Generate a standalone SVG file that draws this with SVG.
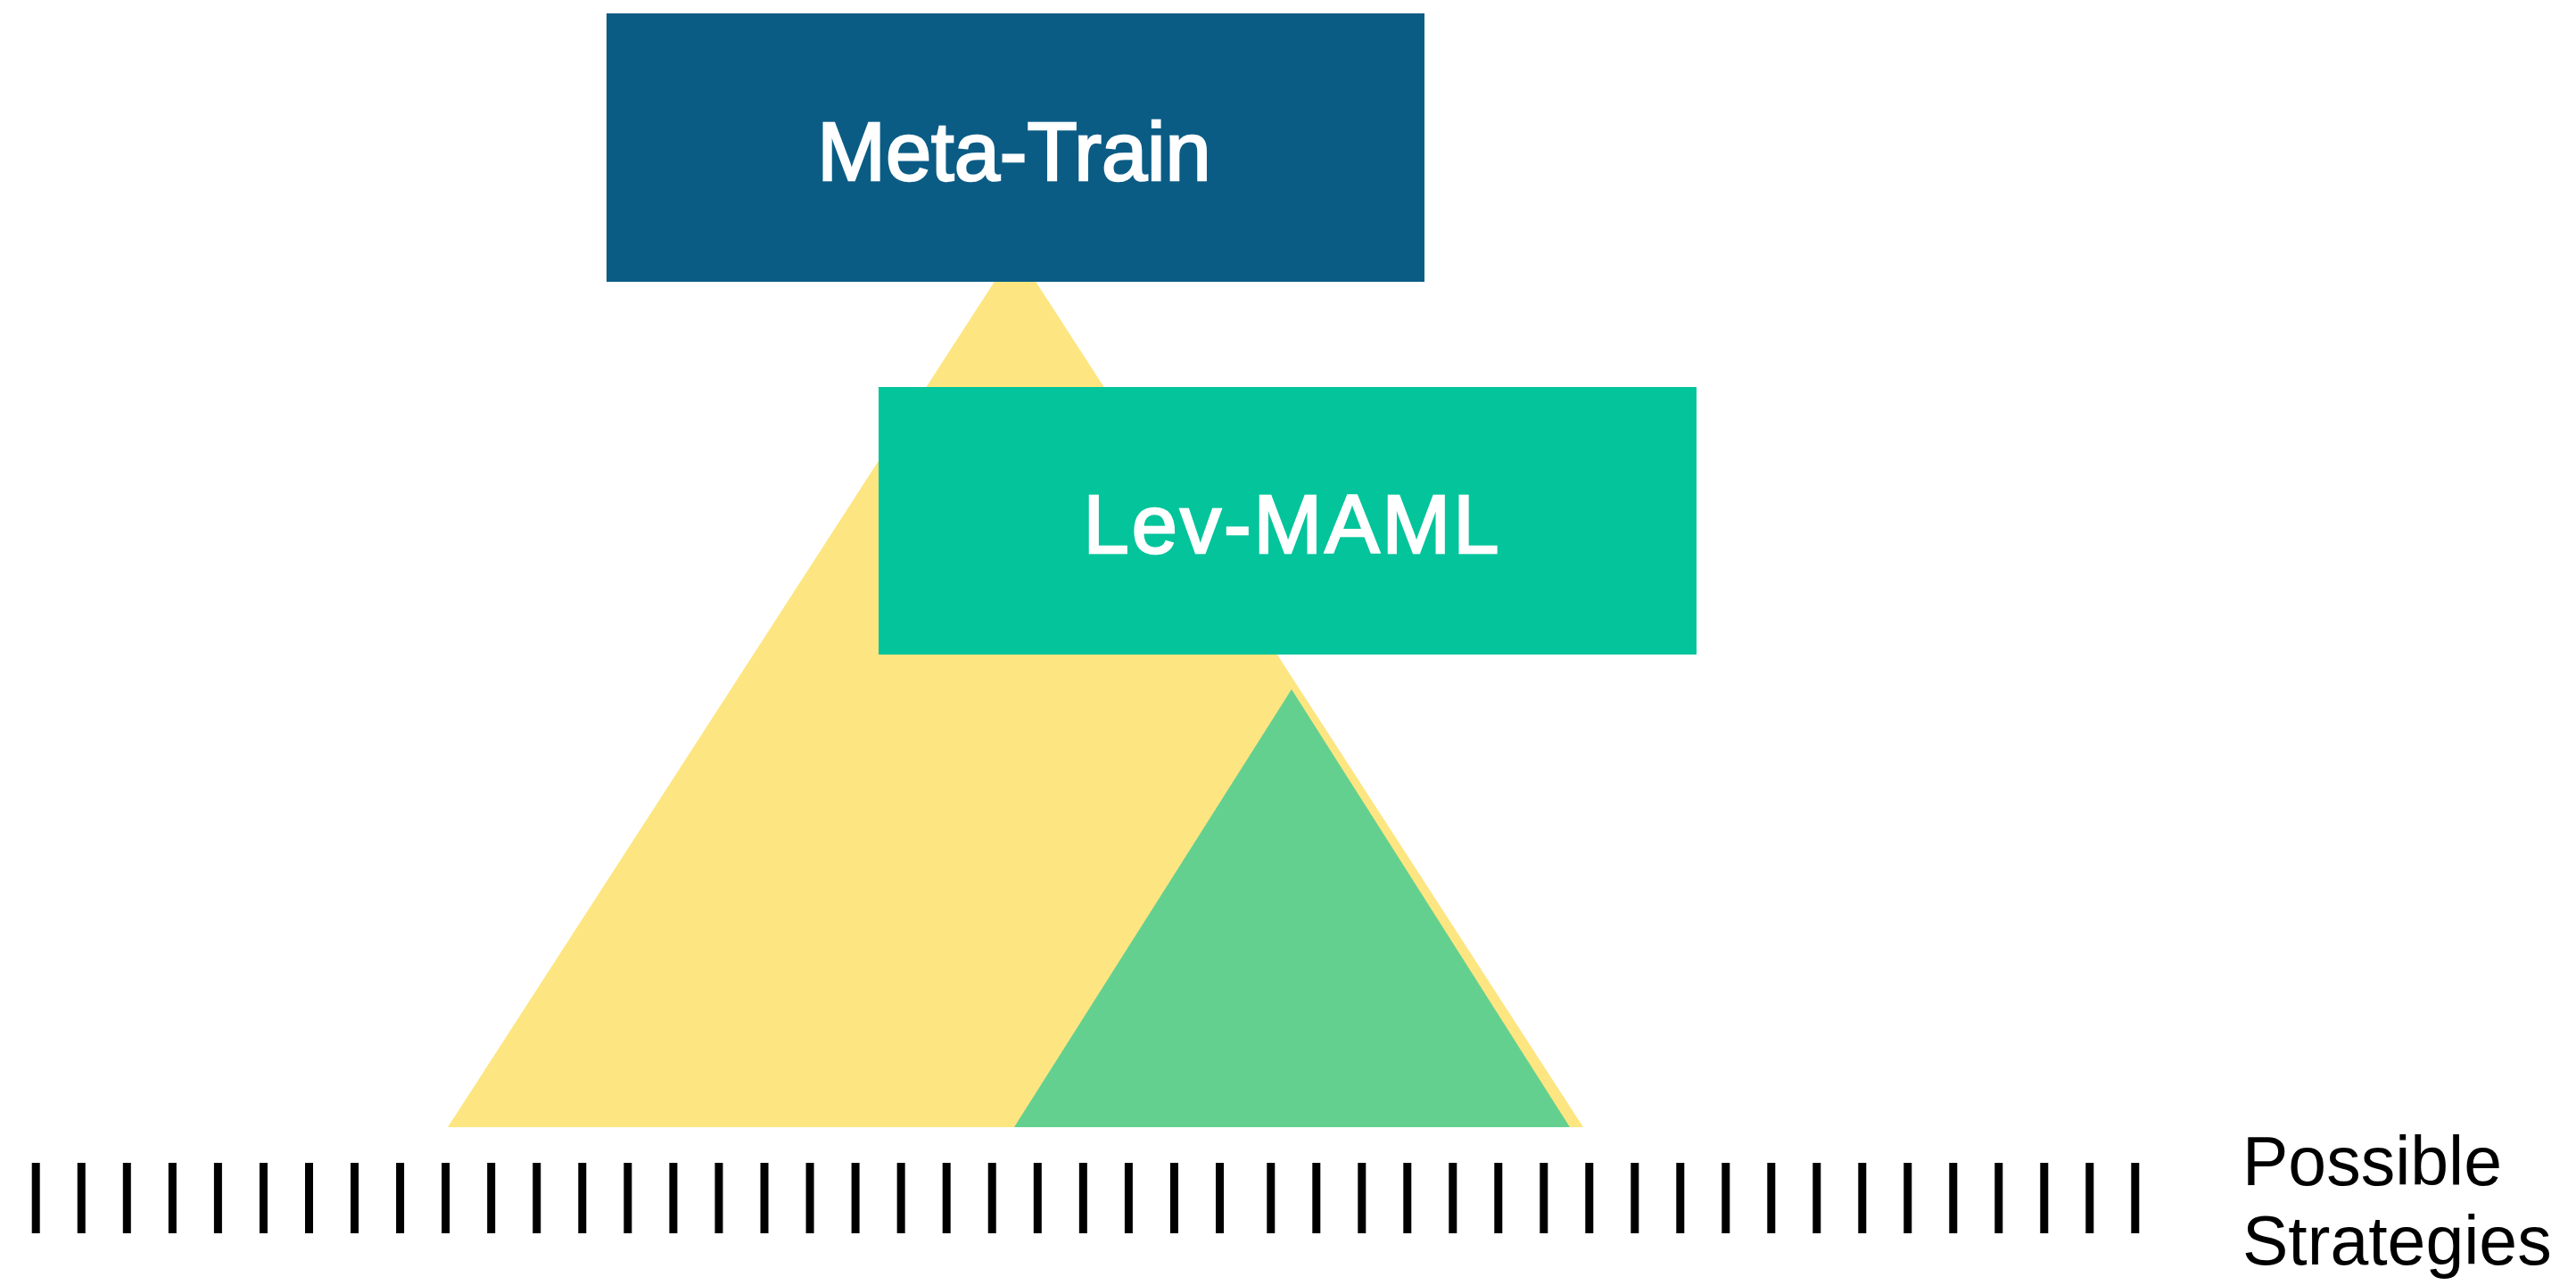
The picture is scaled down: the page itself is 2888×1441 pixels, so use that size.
<svg xmlns="http://www.w3.org/2000/svg" width="2888" height="1441" viewBox="0 0 2888 1441">
<style>
.lbl{font-family:"Liberation Sans",Arial,Helvetica,sans-serif;fill:#ffffff;stroke:#ffffff;stroke-width:2.5;font-size:92px;text-anchor:middle}
.cap{font-family:"Liberation Sans",Arial,Helvetica,sans-serif;fill:#000000;font-size:77px}
.tick{stroke:#000000;stroke-width:9}
</style>
<rect width="2888" height="1441" fill="#ffffff"/>
<g id="space">
<polygon points="1138,280 1775,1264 502,1264" fill="#FDE681"/>
<polygon points="1448,773 1760,1264 1137,1264" fill="#64D090"/>
</g>
<g id="meta-train">
<rect x="680" y="15" width="917" height="301" fill="#0B5C85"/>
<text class="lbl" x="1137" y="202">Meta-Train</text>
</g>
<g id="lev-maml">
<rect x="985" y="434" width="917" height="300" fill="#03C49B"/>
<text class="lbl" x="1449" y="620" letter-spacing="3">Lev-MAML</text>
</g>
<g id="strategies">
<path class="tick" d="M40.2,1304V1383M91.25,1304V1383M142.3,1304V1383M193.35,1304V1383M244.4,1304V1383M295.45,1304V1383M346.5,1304V1383M397.55,1304V1383M448.6,1304V1383M499.65,1304V1383M550.7,1304V1383M601.75,1304V1383M652.8,1304V1383M703.85,1304V1383M754.9,1304V1383M805.95,1304V1383M857,1304V1383M908.05,1304V1383M959.1,1304V1383M1010.15,1304V1383M1061.2,1304V1383M1112.25,1304V1383M1163.3,1304V1383M1214.35,1304V1383M1265.4,1304V1383M1316.45,1304V1383M1367.5,1304V1383M1424.8,1304V1383M1475.8,1304V1383M1526.8,1304V1383M1577.8,1304V1383M1628.8,1304V1383M1679.8,1304V1383M1730.8,1304V1383M1781.8,1304V1383M1832.8,1304V1383M1883.8,1304V1383M1934.8,1304V1383M1985.8,1304V1383M2036.8,1304V1383M2087.8,1304V1383M2138.8,1304V1383M2189.8,1304V1383M2240.8,1304V1383M2291.8,1304V1383M2342.8,1304V1383M2393.8,1304V1383"/>
<text class="cap" x="2514" y="1329">Possible</text>
<text class="cap" x="2514" y="1418">Strategies</text>
</g>
</svg>
